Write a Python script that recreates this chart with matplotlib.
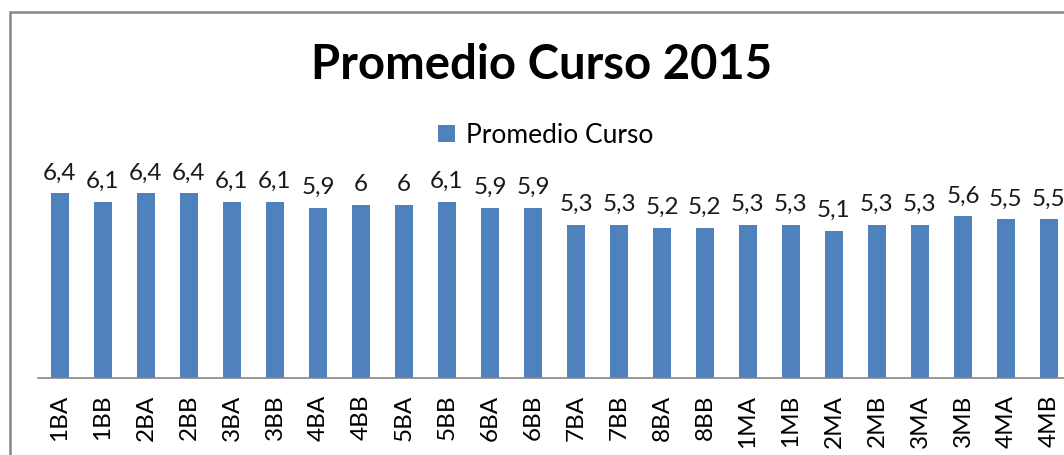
import matplotlib.pyplot as plt
from matplotlib.patches import Rectangle

# --- datos ---
cursos = ["1BA", "1BB", "2BA", "2BB", "3BA", "3BB", "4BA", "4BB", "5BA", "5BB",
          "6BA", "6BB", "7BA", "7BB", "8BA", "8BB", "1MA", "1MB", "2MA", "2MB",
          "3MA", "3MB", "4MA", "4MB"]
promedios = [6.4, 6.1, 6.4, 6.4, 6.1, 6.1, 5.9, 6.0, 6.0, 6.1,
             5.9, 5.9, 5.3, 5.3, 5.2, 5.2, 5.3, 5.3, 5.1, 5.3,
             5.3, 5.6, 5.5, 5.5]

C_BAR = "#4F81BD"
C_GRIS = "#868686"
FONT = ["Lato", "DejaVu Sans"]

plt.rcParams["font.family"] = FONT

fig = plt.figure(figsize=(10.64, 4.55), dpi=100)
ax = fig.add_axes([0.0, 0.169, 1.0, 0.508])

x = list(range(len(cursos)))
ax.bar(x, promedios, width=0.4, color=C_BAR, zorder=2, label="Promedio Curso")

for xi, v in zip(x, promedios):
    ax.annotate(f"{v:g}".replace(".", ","), xy=(xi, v), xytext=(0, 7),
                textcoords="offset points", ha="center", va="bottom",
                fontsize=17.5, color="#1a1a1a")

ax.set_xlim(-0.5 - (38.5 / 43), 23.35)
ax.set_ylim(0, 8)
ax.set_yticks([])
ax.set_xticks(x)
ax.set_xticklabels(cursos, rotation=90, fontsize=17.5, va="top")
ax.tick_params(axis="x", length=0, pad=12)
for s in ["top", "right", "left"]:
    ax.spines[s].set_visible(False)
ax.spines["bottom"].set_color(C_GRIS)
ax.spines["bottom"].set_linewidth(1.2)
ax.spines["bottom"].set_bounds(-0.5, 23.35)

fig.text(0.509, 0.858, "Promedio Curso 2015", ha="center", va="center",
         fontsize=34, fontweight="bold")
fig.legend(loc="center", bbox_to_anchor=(0.513, 0.703), frameon=False,
           fontsize=19, handlelength=0.65, handleheight=0.65, handletextpad=0.4)

# marco del grafico (cortado a la derecha y abajo)
fig.patches.append(Rectangle((10 / 1064, -0.1), 1.2, (455 - 12) / 455 + 0.1,
                             transform=fig.transFigure, fill=False,
                             edgecolor=C_GRIS, linewidth=1.8))

fig.savefig("out.png", dpi=100)
